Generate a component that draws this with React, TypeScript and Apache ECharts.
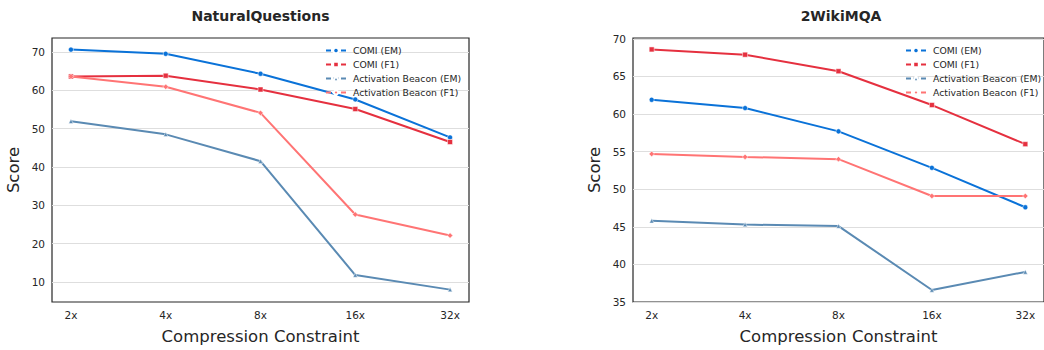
import { useEffect, useRef } from 'react';
import * as echarts from 'echarts';

const categories = ['2x', '4x', '8x', '16x', '32x'];

const nqComiEM = [70.6, 69.5, 64.3, 57.6, 47.7];
const nqComiF1 = [63.6, 63.8, 60.2, 55.1, 46.5];
const nqBeaconEM = [51.9, 48.5, 41.5, 11.8, 8.0];
const nqBeaconF1 = [63.6, 60.9, 54.1, 27.6, 22.1];

const wkComiEM = [61.9, 60.8, 57.7, 52.85, 47.6];
const wkComiF1 = [68.6, 67.9, 65.7, 61.2, 56.0];
const wkBeaconEM = [45.8, 45.3, 45.1, 36.6, 39.0];
const wkBeaconF1 = [54.7, 54.3, 54.0, 49.1, 49.1];

const nqTicks = [10, 20, 30, 40, 50, 60, 70];
const wkTicks = [35, 40, 45, 50, 55, 60, 65, 70];

const seriesNames = ['COMI (EM)', 'COMI (F1)', 'Activation Beacon (EM)', 'Activation Beacon (F1)'];
const seriesColors = ['#0A72D8', '#E5303F', '#5A8AB3', '#FF7474'];
const seriesSymbols = ['circle', 'rect', 'triangle', 'diamond'];
const seriesSizes = [5, 5, 4.5, 5.5];

const TEXT = '#262626';
const FONT = 'DejaVu Sans';

export default function App() {
  const ref = useRef<HTMLDivElement>(null);
  useEffect(() => {
    document.body.style.margin = '0';
    const chart = echarts.init(ref.current!, null, { renderer: 'svg' });
    const grids = [
      { left: 52, top: 38, width: 417, height: 267 },
      { left: 633, top: 38, width: 417, height: 267 },
    ];
    const yRanges = [
      { min: 4.77, max: 73.63, ticks: nqTicks },
      { min: 35.0, max: 70.12, ticks: wkTicks },
    ];
    const datasets = [
      [nqComiEM, nqComiF1, nqBeaconEM, nqBeaconF1],
      [wkComiEM, wkComiF1, wkBeaconEM, wkBeaconF1],
    ];
    const xAxes = grids.map((_, gi) => ({
      type: 'value',
      gridIndex: gi,
      min: -0.2,
      max: 4.2,
      axisLine: { show: false },
      axisTick: { show: false },
      splitLine: { show: false },
      axisLabel: {
        customValues: [0, 1, 2, 3, 4],
        formatter: (v: number) => categories[Math.round(v)] ?? '',
        color: TEXT,
        fontFamily: FONT,
        fontSize: 10.5,
        margin: 7,
      },
      name: 'Compression Constraint',
      nameLocation: 'middle',
      nameGap: 26,
      nameTextStyle: { color: TEXT, fontFamily: FONT, fontSize: 16.5 },
    }));
    const yAxes = grids.map((_, gi) => ({
      type: 'value',
      gridIndex: gi,
      min: yRanges[gi].min,
      max: yRanges[gi].max,
      axisLine: { show: false },
      axisTick: { show: false },
      splitLine: { show: false },
      axisLabel: {
        customValues: yRanges[gi].ticks,
        color: TEXT,
        fontFamily: FONT,
        fontSize: 10.5,
        margin: 7,
      },
      name: 'Score',
      nameLocation: 'middle',
      nameGap: 30,
      nameTextStyle: { color: TEXT, fontFamily: FONT, fontSize: 16.5 },
    }));
    const series: any[] = [];
    datasets.forEach((ds, gi) => {
      series.push({
        type: 'line',
        xAxisIndex: gi,
        yAxisIndex: gi,
        data: [],
        silent: true,
        markLine: {
          silent: true,
          symbol: 'none',
          label: { show: false },
          lineStyle: { color: '#dedede', width: 1, type: 'solid' },
          data: yRanges[gi].ticks.map((t) => ({ yAxis: t })),
          z: 0,
        },
        z: 0,
      });
      ds.forEach((vals, si) => {
        series.push({
          type: 'line',
          name: seriesNames[si],
          xAxisIndex: gi,
          yAxisIndex: gi,
          data: vals.map((v, i) => [i, v]),
          color: seriesColors[si],
          symbol: seriesSymbols[si],
          symbolSize: seriesSizes[si],
          showSymbol: true,
          lineStyle: { width: 2, color: seriesColors[si] },
          itemStyle: { color: seriesColors[si], borderColor: '#fff', borderWidth: 0.5 },
          z: 2 + si,
        });
      });
    });
    const legendBase = {
      orient: 'vertical',
      data: seriesNames,
      itemWidth: 20,
      itemHeight: 7,
      itemGap: 3,
      textStyle: { color: TEXT, fontFamily: FONT, fontSize: 9.3, lineHeight: 11, padding: [0, 0, 0, 2] },
      lineStyle: { type: [5, 2.5], width: 2 },
      padding: 0,
      selectedMode: false,
    };
    chart.setOption({
      animation: false,
      backgroundColor: '#fff',
      grid: grids.map((g) => ({ ...g, show: true, borderColor: '#262626', borderWidth: 1.2, backgroundColor: 'transparent' })),
      xAxis: xAxes,
      yAxis: yAxes,
      legend: [
        { ...legendBase, left: 325, top: 45 },
        { ...legendBase, left: 905, top: 45 },
      ],
      series,
      graphic: [
        {
          type: 'text',
          x: 260.5,
          y: 16,
          style: { text: 'NaturalQuestions', fill: TEXT, font: `bold 14px ${FONT}`, textAlign: 'center', textVerticalAlign: 'middle' },
        },
        {
          type: 'text',
          x: 841,
          y: 16,
          style: { text: '2WikiMQA', fill: TEXT, font: `bold 14px ${FONT}`, textAlign: 'center', textVerticalAlign: 'middle' },
        },
      ],
    });
    return () => chart.dispose();
  }, []);
  return <div ref={ref} style={{ width: 1044, height: 350 }} />;
}
